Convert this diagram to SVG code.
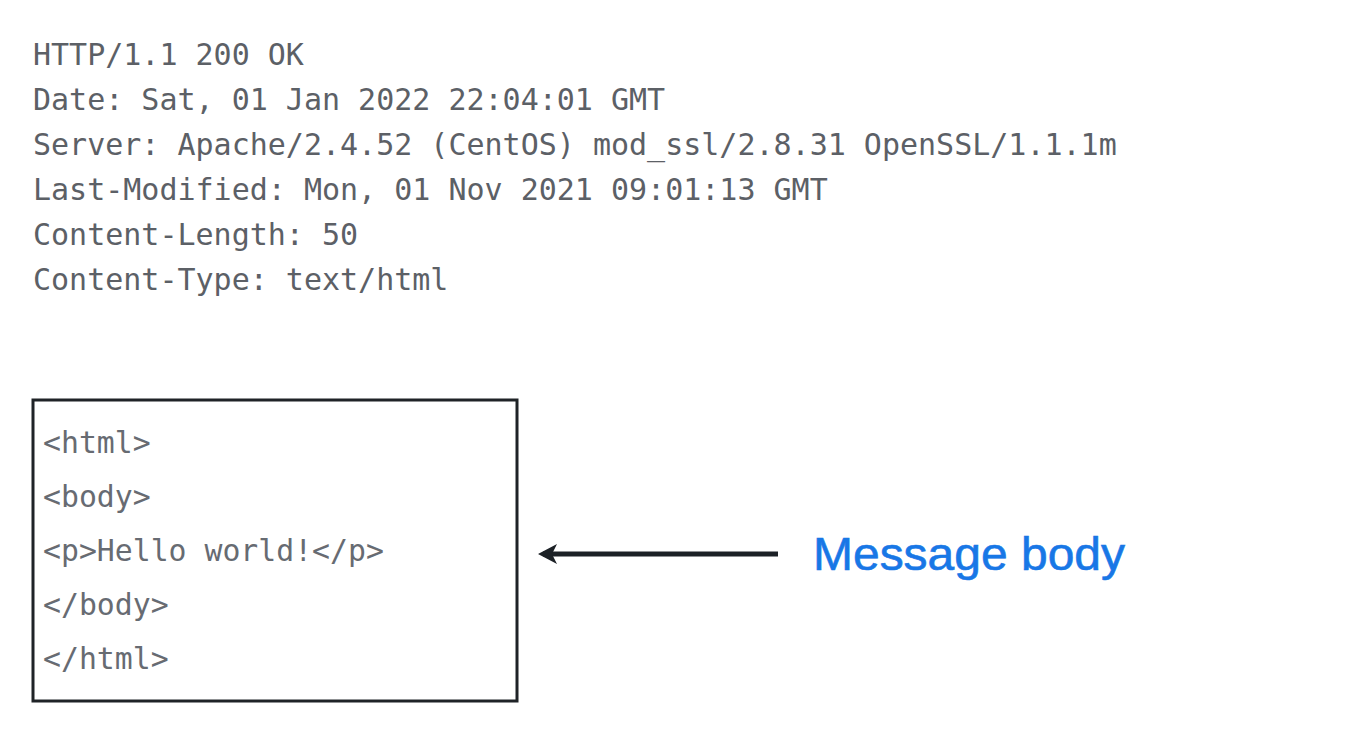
<svg xmlns="http://www.w3.org/2000/svg" width="1347" height="750" viewBox="0 0 1347 750">
<style>
.hdr{font-family:"DejaVu Sans Mono","Liberation Mono",monospace;font-size:30px;fill:#5c6066}
.code{font-family:"DejaVu Sans Mono","Liberation Mono",monospace;font-size:29.8px;fill:#676b72}
.lbl{font-family:"Liberation Sans","Noto Sans",Arial,sans-serif;font-size:46px;fill:#1877e6;stroke:#1877e6;stroke-width:0.6}
.conn{stroke:#1c2126;stroke-width:5;fill:none}
</style>
<defs>
<marker id="ah" markerWidth="19" markerHeight="20" refX="14" refY="10" orient="auto-start-reverse" markerUnits="userSpaceOnUse" viewBox="0 0 19 20">
<polygon points="19,10 0,0 5,10 0,20" fill="#1c2126"/>
</marker>
</defs>
<rect width="1347" height="750" fill="#ffffff"/>
<g id="headers">
<text class="hdr" x="33" y="65">HTTP/1.1 200 OK</text>
<text class="hdr" x="33" y="110">Date: Sat, 01 Jan 2022 22:04:01 GMT</text>
<text class="hdr" x="33" y="155">Server: Apache/2.4.52 (CentOS) mod_ssl/2.8.31 OpenSSL/1.1.1m</text>
<text class="hdr" x="33" y="200">Last-Modified: Mon, 01 Nov 2021 09:01:13 GMT</text>
<text class="hdr" x="33" y="245">Content-Length: 50</text>
<text class="hdr" x="33" y="290">Content-Type: text/html</text>
</g>
<g id="body-box">
<rect x="33" y="400" width="484" height="301" fill="none" stroke="#1f2327" stroke-width="3"/>
<text class="code" x="43" y="453">&lt;html&gt;</text>
<text class="code" x="43" y="507">&lt;body&gt;</text>
<text class="code" x="43" y="561">&lt;p&gt;Hello world!&lt;/p&gt;</text>
<text class="code" x="43" y="615">&lt;/body&gt;</text>
<text class="code" x="43" y="669">&lt;/html&gt;</text>
</g>
<g id="connectors">
<line class="conn" x1="778" y1="554" x2="543" y2="554" marker-end="url(#ah)"/>
</g>
<g id="label">
<text class="lbl" x="813" y="570" textLength="312" lengthAdjust="spacingAndGlyphs">Message body</text>
</g>
</svg>
